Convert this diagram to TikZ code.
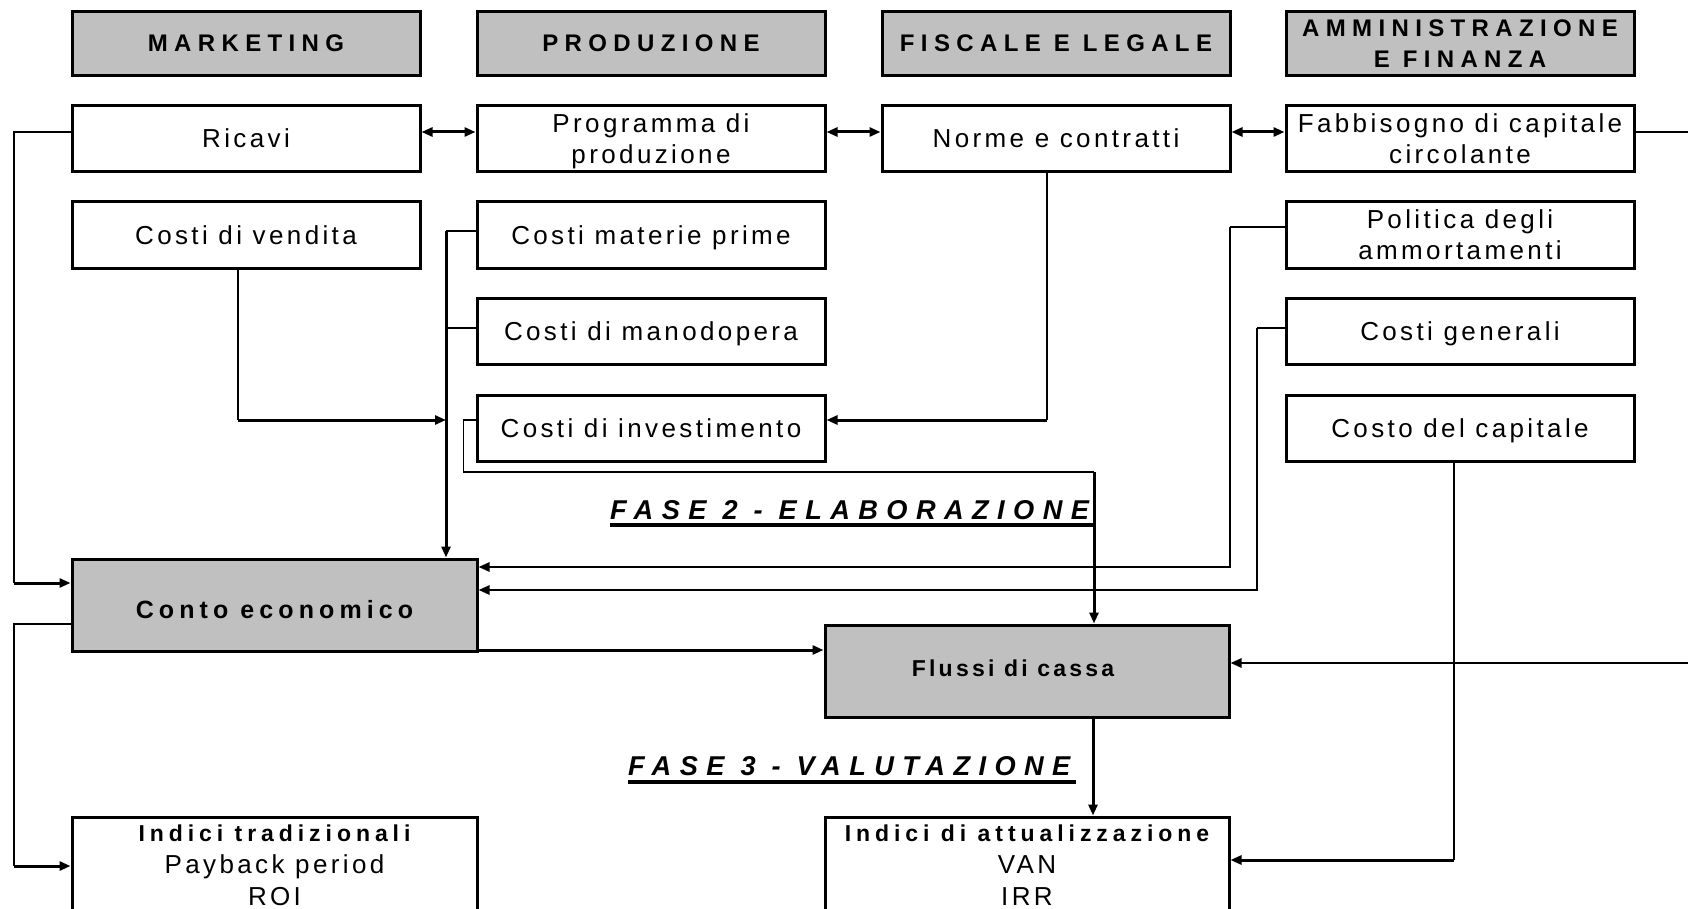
\documentclass[tikz,border=0pt]{standalone}
\usepackage{fontspec}
\setmainfont{Liberation Sans}
\newfontfamily\regf{Liberation Sans}[LetterSpace=13]
\newfontfamily\hdrf{Liberation Sans}[LetterSpace=26.5]
\newfontfamily\cef{Liberation Sans}[LetterSpace=20.4]
\newfontfamily\flf{Liberation Sans}[LetterSpace=14]
\newfontfamily\idxf{Liberation Sans}[LetterSpace=21.5]
\newfontfamily\fasef{Liberation Sans}[LetterSpace=31]
\usetikzlibrary{arrows.meta,calc}
\definecolor{boxgray}{RGB}{192,192,192}
\begin{document}
\begin{tikzpicture}[x=1pt,y=-1pt,
  cell/.style={draw, line width=3pt, minimum width=348pt, minimum height=66pt, inner sep=0pt, align=center, font={\regf\fontsize{26}{31}\selectfont}},
  cellone/.style={cell, text height=24pt, text depth=5.4pt},
  hdr/.style={cell, fill=boxgray, minimum height=64pt, font={\hdrf\bfseries\fontsize{24}{31}\selectfont}},
  big/.style={draw, line width=3pt, minimum width=405pt, minimum height=92pt, inner sep=0pt, fill=boxgray},
  idx/.style={draw, line width=3pt, minimum width=405pt, minimum height=96pt, inner sep=0pt, align=center, font={\regf\fontsize{26}{32}\selectfont}},
  thinln/.style={line width=1.5pt},
  arr/.style={line width=3pt, -{Triangle[length=11pt,width=9pt]}},
  marr/.style={line width=2.5pt, -{Triangle[length=11pt,width=9pt]}},
  dbl/.style={line width=3pt, {Triangle[length=11pt,width=9pt]}-{Triangle[length=11pt,width=9pt]}},
  fase/.style={anchor=base west, inner sep=0pt, font={\fasef\bfseries\itshape\fontsize{27.2}{31}\selectfont}},
  ul/.style={line width=3.3pt}
]
\useasboundingbox (0,0) rectangle (1688,909);

% headers
\node[hdr] (hmk) at (246,43.5) {MARKETING};
\node[hdr] (hpr) at (651,43.5) {PRODUZIONE};
\node[hdr] (hfl) at (1056,43.5) {FISCALE E LEGALE};
\node[hdr] (haf) at (1460,44) {AMMINISTRAZIONE\\E FINANZA};

% cells
\node[cellone] (ric) at (246,138.5) {Ricavi};
\node[cell, text depth=0pt] (prog) at (651,138.5) {Programma di\\produzione};
\node[cellone] (norme) at (1056,138.5) {Norme e contratti};
\node[cell] (fabb) at (1460,138.5) {Fabbisogno di capitale\\circolante};
\node[cellone] (cv) at (246,235) {Costi di vendita};
\node[cellone] (cmp) at (651,235) {Costi materie prime};
\node[cell] (pol) at (1460,235) {Politica degli\\ammortamenti};
\node[cellone] (cmo) at (651,331.5) {Costi di manodopera};
\node[cellone] (cgen) at (1460,331.5) {Costi generali};
\node[cellone] (cinv) at (651,428) {Costi di investimento};
\node[cellone] (ccap) at (1460,428) {Costo del capitale};

\node[big, text height=27pt, text depth=0pt, font={\cef\bfseries\fontsize{25}{31}\selectfont}] (ce) at (274.5,605) {Conto economico};
\node[big, minimum width=404pt, text height=16.5pt, text depth=5.5pt, font={\flf\bfseries\fontsize{23}{31}\selectfont}] (fc) at (1027,671) {Flussi di cassa\hspace*{28pt}};
\node[idx] (it) at (274.5,865) {{\idxf\bfseries\fontsize{23}{32}\selectfont Indici tradizionali}\\Payback period\\ROI};
\node[idx, minimum width=404pt] (ia) at (1027,865) {{\idxf\bfseries\fontsize{23}{32}\selectfont Indici di attualizzazione}\\VAN\\IRR};

% phase labels
\node[fase] (f2) at (610,519) {FASE 2 - ELABORAZIONE};
\node[fase] (f3) at (628,775) {FASE 3 - VALUTAZIONE};
\draw[ul] ($(f2.base west)+(0,6)$) -- ($(f2.base west)+(484,6)$);
\draw[ul] ($(f3.base west)+(0,7)$) -- ($(f3.base west)+(448,7)$);

% rails
\coordinate (railL) at (14,0);
\coordinate (railR) at (1700,0);
\coordinate (trunk) at (446,0);
\coordinate (rail3) at (1230,0);
\coordinate (rail4) at (1257,0);

% Ricavi -> Conto economico
\coordinate (ricW) at ($(ric.west)+(0,-6.5)$);
\coordinate (ceW1) at ($(ce.west)+(0,-22)$);
\draw[thinln] (ricW) -- (ricW -| railL) -- (ceW1 -| railL);
\draw[arr] (ceW1 -| railL) -- (ceW1);

% double arrows
\draw[dbl] ($(ric.east)+(0,-6.5)$) -- ($(prog.west)+(0,-6.5)$);
\draw[dbl] ($(prog.east)+(0,-6.5)$) -- ($(norme.west)+(0,-6.5)$);
\draw[dbl] ($(norme.east)+(0,-6.5)$) -- ($(fabb.west)+(0,-6.5)$);

% Fabbisogno -> Flussi
\coordinate (fabE) at ($(fabb.east)+(0,-6.5)$);
\coordinate (fcE) at ($(fc.east)+(0,-8)$);
\draw[thinln] (fabE) -- (fabE -| railR) -- (fcE -| railR);
\draw[marr] (fcE -| railR) -- (fcE);

% Costi di vendita -> trunk
\coordinate (cvS) at ($(cv.south)+(-8,0)$);
\coordinate (cvT) at ($(cinv.west)+(0,-8)$);
\draw[thinln] (cvS) -- (cvS |- cvT);
\draw[arr] (cvS |- cvT) -- (trunk |- cvT);

% production costs -> Conto economico
\coordinate (cmpW) at ($(cmp.west)+(0,-4)$);
\coordinate (cmoW) at ($(cmo.west)+(0,-3.5)$);
\draw[thinln] (cmpW) -- (cmpW -| trunk);
\draw[thinln] (cmoW) -- (cmoW -| trunk);
\draw[arr] (cmpW -| trunk) -- (trunk |- ce.north);

% Norme -> Costi di investimento
\coordinate (noS) at ($(norme.south)+(-9,0)$);
\coordinate (ciE) at ($(cinv.east)+(0,-8)$);
\draw[thinln] (noS) -- (noS |- ciE);
\draw[arr] (noS |- ciE) -- (ciE);

% Costi di investimento -> Flussi
\coordinate (ciW) at ($(cinv.west)+(0,-8)$);
\coordinate (fcN) at ($(fc.north)+(67,0)$);
\draw[thinln] (ciW) -- ++(-12,0) -- ++(0,52) coordinate (ciB) -- (ciB -| fcN);
\draw[arr] (ciB -| fcN) -- (fcN);

% Politica -> Conto economico
\coordinate (poW) at ($(pol.west)+(0,-8)$);
\coordinate (ceE1) at ($(ce.east)+(0,-38)$);
\draw[thinln] (poW) -- (poW -| rail3);
\draw[marr] (poW -| rail3) -- (rail3 |- ceE1) -- (ceE1);

% Costi generali -> Conto economico
\coordinate (cgW) at ($(cgen.west)+(0,-3.5)$);
\coordinate (ceE2) at ($(ce.east)+(0,-15)$);
\draw[thinln] (cgW) -- (cgW -| rail4);
\draw[marr] (cgW -| rail4) -- (rail4 |- ceE2) -- (ceE2);

% Conto economico -> Flussi
\coordinate (ceE3) at ($(ce.east)+(0,45)$);
\draw[arr] (ceE3) -- (ceE3 -| fc.west);

% Conto economico -> Indici tradizionali
\coordinate (ceW2) at ($(ce.west)+(0,19)$);
\coordinate (itW) at ($(it.west)+(0,1)$);
\draw[thinln] (ceW2) -- (ceW2 -| railL) -- (itW -| railL);
\draw[arr] (itW -| railL) -- (itW);

% Flussi -> Indici di attualizzazione
\draw[arr] ($(fc.south)+(66,0)$) -- ($(ia.north)+(66,0)$);

% Costo del capitale -> Indici di attualizzazione
\coordinate (ccS) at ($(ccap.south)+(-6,0)$);
\coordinate (iaE) at ($(ia.east)+(0,-5)$);
\draw[thinln] (ccS) -- (ccS |- iaE);
\draw[arr] (ccS |- iaE) -- (iaE);
\end{tikzpicture}
\end{document}
